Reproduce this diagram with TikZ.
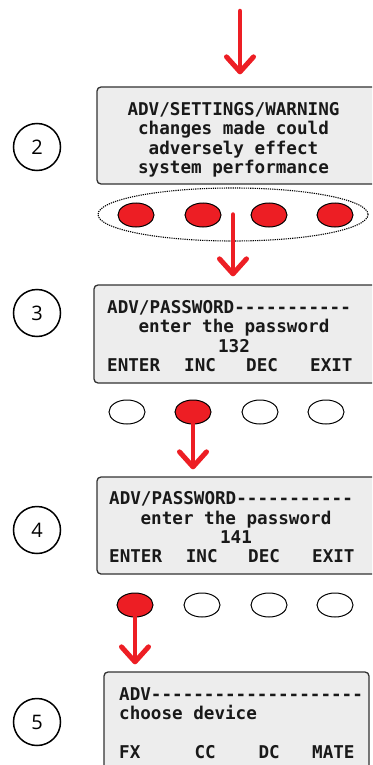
\documentclass[tikz,border=0pt]{standalone}
\usepackage{fontspec}
\newfontfamily\lcdfont{DejaVu Sans Mono}
\newfontfamily\numfont{Open Sans}
\usetikzlibrary{shapes.geometric,arrows.meta}
\definecolor{lcdred}{RGB}{237,30,36}
\definecolor{lcdfill}{RGB}{237,237,237}
\definecolor{lcdedge}{RGB}{50,50,50}
\definecolor{lcdtext}{RGB}{25,25,25}
\def\hy{\hbox{-}}
\begin{document}
\begin{tikzpicture}[x=1pt,y=-1pt,
  lcdbox/.style={draw=lcdedge, fill=lcdfill, line width=1.3pt, rounded corners=4pt, inner sep=0pt},
  lcd/.style={font=\lcdfont\bfseries\fontsize{17.6}{20}\selectfont, text=lcdtext, inner sep=0pt},
  numcirc/.style={circle, draw=black, fill=white, line width=1.5pt, minimum size=47pt, inner sep=0pt, font=\numfont\fontsize{20}{24}\selectfont},
  btn/.style={ellipse, draw=black, line width=1pt, minimum width=36pt, minimum height=24pt, inner sep=0pt},
  btnon/.style={btn, fill=lcdred},
  btnoff/.style={btn, fill=white},
  arr/.style={draw=lcdred, line width=4.5pt, line cap=round, -{Straight Barb[length=15pt,width=27pt,line width=5pt,round]}}
]
\clip (0,0) rectangle (372,765);
\useasboundingbox (0,0) rectangle (372,765);

% ---- step 2 ----
\node[lcdbox, minimum width=284pt, minimum height=97pt] (box2) at (239,135.5) {};
\node[lcd, anchor=base] (t2a) at (233.5,115.7) {ADV/SETTINGS/WARNING};
\node[lcd, anchor=base] (t2b) at (233.5,135) {changes made could};
\node[lcd, anchor=base] (t2c) at (233.5,154.3) {adversely effect};
\node[lcd, anchor=base] (t2d) at (233.5,173) {system performance};
\node[numcirc] (c2) at (37,147) {2};
\node[ellipse, draw=black, line width=1.1pt, dash pattern=on 1.2pt off 1pt, minimum width=270pt, minimum height=53pt, inner sep=0pt] (grp2) at (233,214.5) {};
\node[btnon] (b2a) at (136,215) {};
\node[btnon] (b2b) at (203,215) {};
\node[btnon] (b2c) at (269,215) {};
\node[btnon] (b2d) at (335,215) {};

% ---- step 3 ----
\node[lcdbox, minimum width=284pt, minimum height=98pt] (box3) at (236,334) {};
\node[lcd, anchor=base west] (t3a) at (107,313) {ADV/PASSWORD\hy\hy\hy\hy\hy\hy\hy\hy\hy\hy\hy};
\node[lcd, anchor=base] (t3b) at (234,332.7) {enter the password};
\node[lcd, anchor=base] (t3c) at (234,352.7) {132};
\node[lcd, anchor=base west] (t3d) at (107,371.7) {ENTER};
\node[lcd, anchor=base west] (t3e) at (184,371.7) {INC};
\node[lcd, anchor=base west] (t3f) at (246,371.7) {DEC};
\node[lcd, anchor=base west] (t3g) at (310,371.7) {EXIT};
\node[numcirc] (c3) at (37,313) {3};
\node[btnoff] (b3a) at (127,412) {};
\node[btnon] (b3b) at (193,412) {};
\node[btnoff] (b3c) at (260,412) {};
\node[btnoff] (b3d) at (326,412) {};

% ---- step 4 ----
\node[lcdbox, minimum width=281pt, minimum height=97pt] (box4) at (237.5,525.5) {};
\node[lcd, anchor=base west] (t4a) at (109,504.3) {ADV/PASSWORD\hy\hy\hy\hy\hy\hy\hy\hy\hy\hy\hy};
\node[lcd, anchor=base] (t4b) at (236,524) {enter the password};
\node[lcd, anchor=base] (t4c) at (236,543.3) {141};
\node[lcd, anchor=base west] (t4d) at (109,562.7) {ENTER};
\node[lcd, anchor=base west] (t4e) at (185.7,562.7) {INC};
\node[lcd, anchor=base west] (t4f) at (248,562.7) {DEC};
\node[lcd, anchor=base west] (t4g) at (312,562.7) {EXIT};
\node[numcirc] (c4) at (37,530) {4};
\node[btnon] (b4a) at (135,605) {};
\node[btnoff] (b4b) at (202,605) {};
\node[btnoff] (b4c) at (269,605) {};
\node[btnoff] (b4d) at (335,605) {};

% ---- step 5 ----
\node[lcdbox, minimum width=265pt, minimum height=108pt] (box5) at (236.5,726) {};
\node[lcd, anchor=base west] (t5a) at (119,700.7) {ADV\hy\hy\hy\hy\hy\hy\hy\hy\hy\hy\hy\hy\hy\hy\hy\hy\hy\hy\hy\hy};
\node[lcd, anchor=base west] (t5b) at (119,719.3) {choose device};
\node[lcd, anchor=base west] (t5c) at (119,758.3) {FX};
\node[lcd, anchor=base west] (t5d) at (194.3,758.3) {CC};
\node[lcd, anchor=base west] (t5e) at (258.3,758.3) {DC};
\node[lcd, anchor=base west] (t5f) at (312,758.3) {MATE};
\node[numcirc] (c5) at (37,722) {5};

% ---- arrows ----
\coordinate (start) at (240,11);
\draw[arr, shorten >=12pt] (start) -- (start |- box2.north);
\draw[arr, shorten >=8pt] (grp2.center) -- (grp2.center |- box3.north);
\draw[arr, shorten >=7pt] (b3b.center) -- (b3b.center |- box4.north);
\draw[arr, shorten >=7pt] (b4a.center) -- (b4a.center |- box5.north);
\end{tikzpicture}
\end{document}
